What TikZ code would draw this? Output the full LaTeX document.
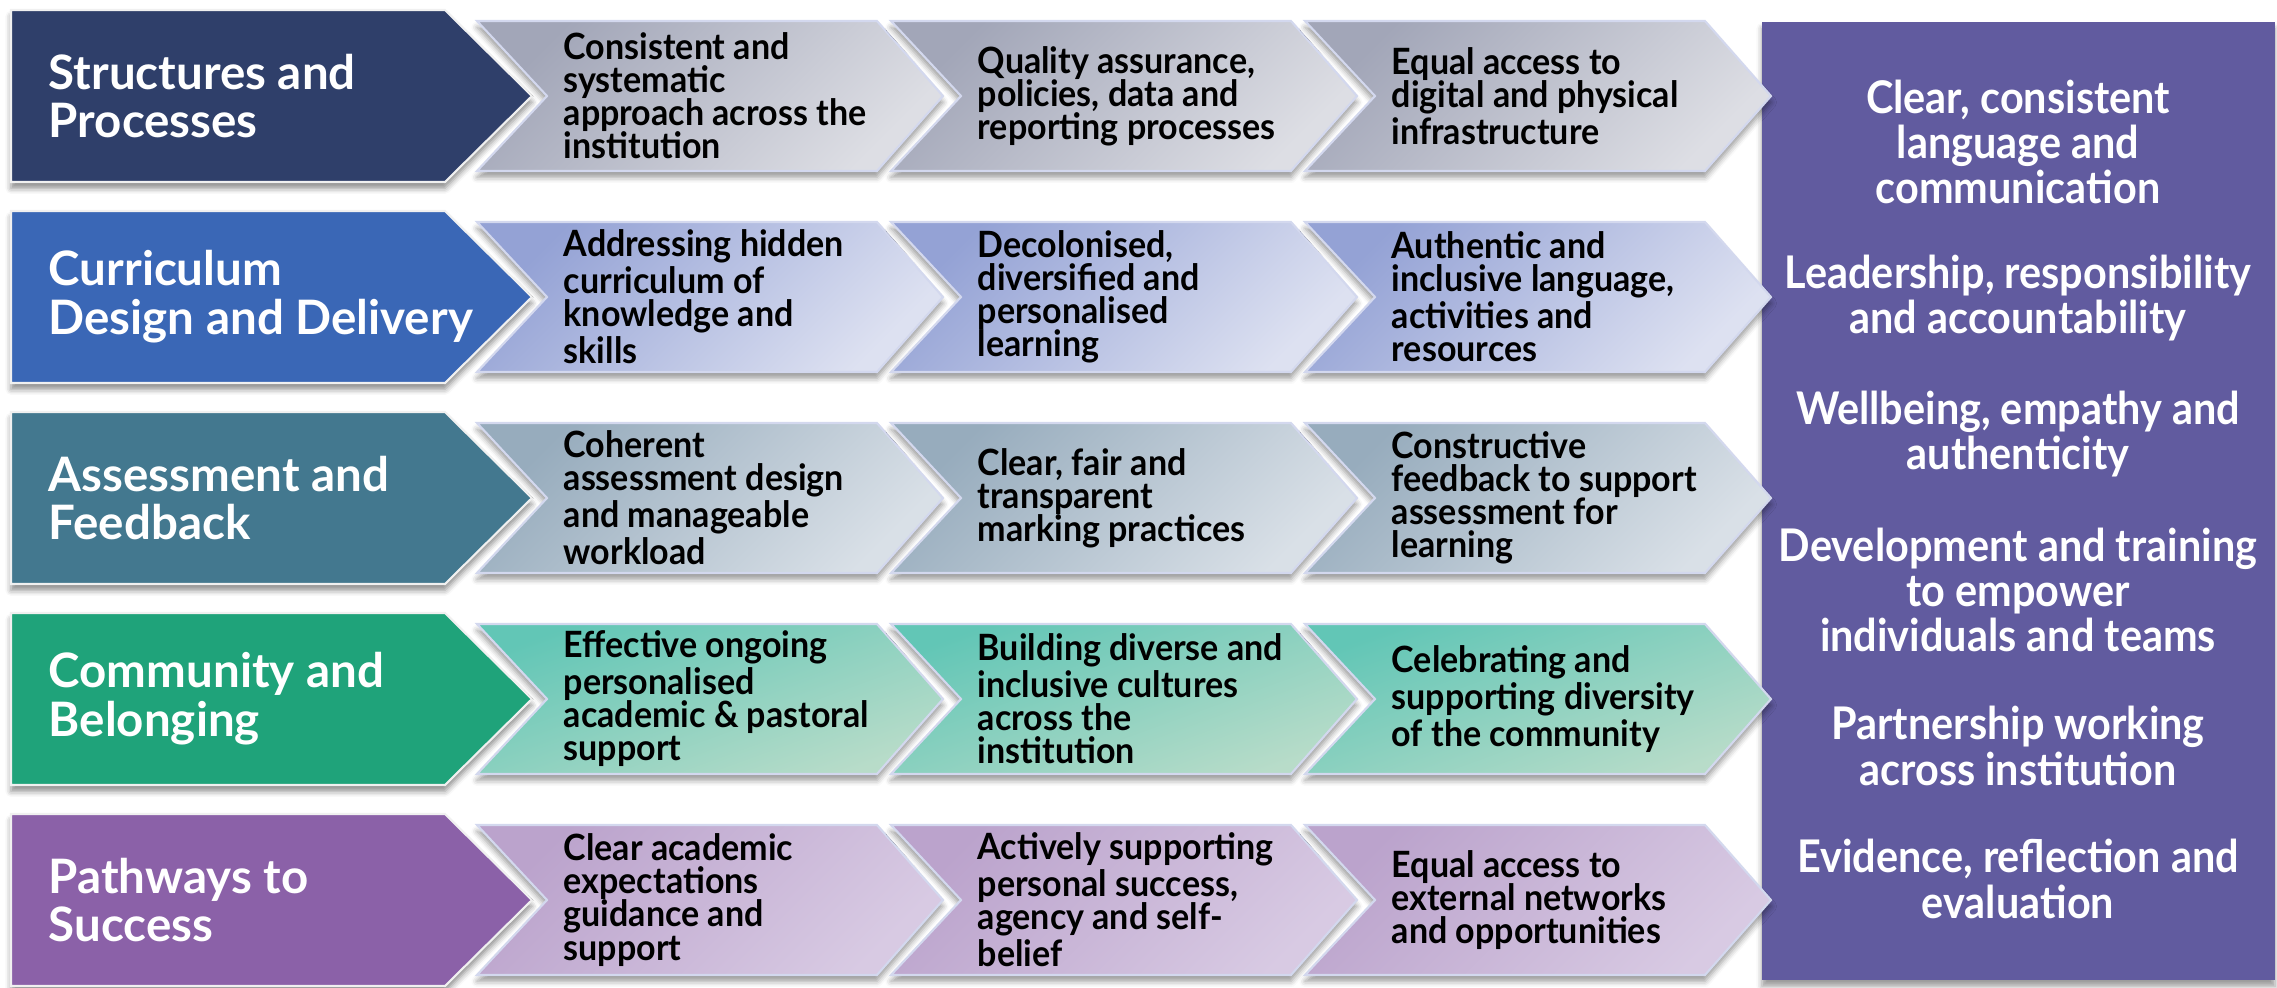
\documentclass[tikz,border=0pt]{standalone}
\usepackage{fontspec}
\setmainfont{Lato}
\newfontfamily\narrowfont{Lato}[FakeStretch=0.94]
\newfontfamily\sidefont{Lato}[FakeStretch=0.92]
\usetikzlibrary{shadows.blur}
\definecolor{headA}{HTML}{2F3F6A}
\definecolor{headB}{HTML}{3A67B6}
\definecolor{headC}{HTML}{43788F}
\definecolor{headD}{HTML}{1FA37A}
\definecolor{headE}{HTML}{8B61A8}
\definecolor{rowAa}{HTML}{A2A6B8}
\definecolor{rowAb}{HTML}{DDDEE4}
\definecolor{rowBa}{HTML}{94A2D5}
\definecolor{rowBb}{HTML}{DDE1F1}
\definecolor{rowCa}{HTML}{97ACBD}
\definecolor{rowCb}{HTML}{D9E0E7}
\definecolor{rowDa}{HTML}{62C6B6}
\definecolor{rowDb}{HTML}{B8DCC9}
\definecolor{rowEa}{HTML}{BBA3CC}
\definecolor{rowEb}{HTML}{D8CAE3}
\definecolor{side}{HTML}{615B9F}
\definecolor{rim}{HTML}{D3D8EE}
\tikzset{
  headbox/.style={draw=white!88!gray, line width=0.6pt,
    blur shadow={shadow xshift=0pt, shadow yshift=-1.8pt, shadow blur radius=1.6pt, shadow opacity=45}},
  chevbox/.style={draw=rim, line width=0.6pt,
    blur shadow={shadow xshift=0pt, shadow yshift=-1.8pt, shadow blur radius=1.6pt, shadow opacity=40}},
  headtext/.style={text=white, font=\bfseries\fontsize{13.5}{13.9}\selectfont, align=left, anchor=west, inner sep=0pt},
  chevtext/.style={font=\narrowfont\bfseries\fontsize{10.3}{9.4}\selectfont, align=left, anchor=west, inner sep=0pt},
  sidetext/.style={text=white, font=\sidefont\bfseries\fontsize{12.8}{12.9}\selectfont, align=center, inner sep=0pt}
}
\begin{document}
\begin{tikzpicture}[x=0.01cm, y=-0.01cm]
\useasboundingbox (0,0) rectangle (2277,987);
\fill[side, blur shadow={shadow xshift=0pt, shadow yshift=-1.8pt, shadow blur radius=1.6pt, shadow opacity=40}] (1762,22) rectangle (2275,980);
\foreach \y/\txt/\n in {142/{Clear, consistent\\language and\\communication}/s1,
  298/{Leadership, responsibility\\and accountability}/s2,
  434/{Wellbeing, empathy and\\authenticity}/s3,
  590/{Development and training\\to empower\\individuals and teams}/s4,
  746/{Partnership working\\across institution}/s5,
  879/{Evidence, reflection and\\evaluation}/s6}
  \node[sidetext] (\n) at (2018,\y) {\txt};
\begin{scope}[shift={(0,96)}]
\fill[headA, headbox] (11,-86) -- (445,-86) -- (532,0) -- (445,86) -- (11,86) -- cycle;
\node[headtext] (h1) at (48,0) {Structures and\\Processes};
\foreach \i/\txt in {0/{Consistent and\\systematic\\approach across the\\institution},
  1/{Quality assurance,\\policies, data and\\reporting processes},
  2/{Equal access to\\digital and physical\\infrastructure}} {
  \fill[chevbox, top color=rowAa, bottom color=rowAb, shading angle=45] (477+\i*414,-75) -- (877+\i*414,-75) -- (943+\i*414,0) -- (877+\i*414,75) -- (477+\i*414,75) -- (547+\i*414,0) -- cycle;
  \node[chevtext] (c1\i) at (563+\i*414,0) {\txt};
}
\end{scope}
\begin{scope}[shift={(0,297)}]
\fill[headB, headbox] (11,-86) -- (445,-86) -- (532,0) -- (445,86) -- (11,86) -- cycle;
\node[headtext] (h2) at (48,0) {Curriculum\\Design and Delivery};
\foreach \i/\txt in {0/{Addressing hidden\\curriculum of\\knowledge and\\skills},
  1/{Decolonised,\\diversified and\\personalised\\learning},
  2/{Authentic and\\inclusive language,\\activities and\\resources}} {
  \fill[chevbox, top color=rowBa, bottom color=rowBb, shading angle=45] (477+\i*414,-75) -- (877+\i*414,-75) -- (943+\i*414,0) -- (877+\i*414,75) -- (477+\i*414,75) -- (547+\i*414,0) -- cycle;
  \node[chevtext] (c2\i) at (563+\i*414,0) {\txt};
}
\end{scope}
\begin{scope}[shift={(0,498)}]
\fill[headC, headbox] (11,-86) -- (445,-86) -- (532,0) -- (445,86) -- (11,86) -- cycle;
\node[headtext] (h3) at (48,0) {Assessment and\\Feedback};
\foreach \i/\txt in {0/{Coherent\\assessment design\\and manageable\\workload},
  1/{Clear, fair and\\transparent\\marking practices},
  2/{Constructive\\feedback to support\\assessment for\\learning}} {
  \fill[chevbox, top color=rowCa, bottom color=rowCb, shading angle=45] (477+\i*414,-75) -- (877+\i*414,-75) -- (943+\i*414,0) -- (877+\i*414,75) -- (477+\i*414,75) -- (547+\i*414,0) -- cycle;
  \node[chevtext] (c3\i) at (563+\i*414,0) {\txt};
}
\end{scope}
\begin{scope}[shift={(0,699)}]
\fill[headD, headbox] (11,-86) -- (445,-86) -- (532,0) -- (445,86) -- (11,86) -- cycle;
\node[headtext] (h4) at (48,0) {Community and\\Belonging};
\foreach \i/\txt in {0/{Effective ongoing\\personalised\\academic \& pastoral\\support},
  1/{Building diverse and\\inclusive cultures\\across the\\institution},
  2/{Celebrating and\\supporting diversity\\of the community}} {
  \fill[chevbox, top color=rowDa, bottom color=rowDb, shading angle=20] (477+\i*414,-75) -- (877+\i*414,-75) -- (943+\i*414,0) -- (877+\i*414,75) -- (477+\i*414,75) -- (547+\i*414,0) -- cycle;
  \node[chevtext] (c4\i) at (563+\i*414,0) {\txt};
}
\end{scope}
\begin{scope}[shift={(0,900)}]
\fill[headE, headbox] (11,-86) -- (445,-86) -- (532,0) -- (445,86) -- (11,86) -- cycle;
\node[headtext] (h5) at (48,0) {Pathways to\\Success};
\foreach \i/\txt in {0/{Clear academic\\expectations\\guidance and\\support},
  1/{Actively supporting\\personal success,\\agency and self-\\belief},
  2/{Equal access to\\external networks\\and opportunities}} {
  \fill[chevbox, top color=rowEa, bottom color=rowEb, shading angle=45] (477+\i*414,-75) -- (877+\i*414,-75) -- (943+\i*414,0) -- (877+\i*414,75) -- (477+\i*414,75) -- (547+\i*414,0) -- cycle;
  \node[chevtext] (c5\i) at (563+\i*414,0) {\txt};
}
\end{scope}
\end{tikzpicture}
\end{document}
